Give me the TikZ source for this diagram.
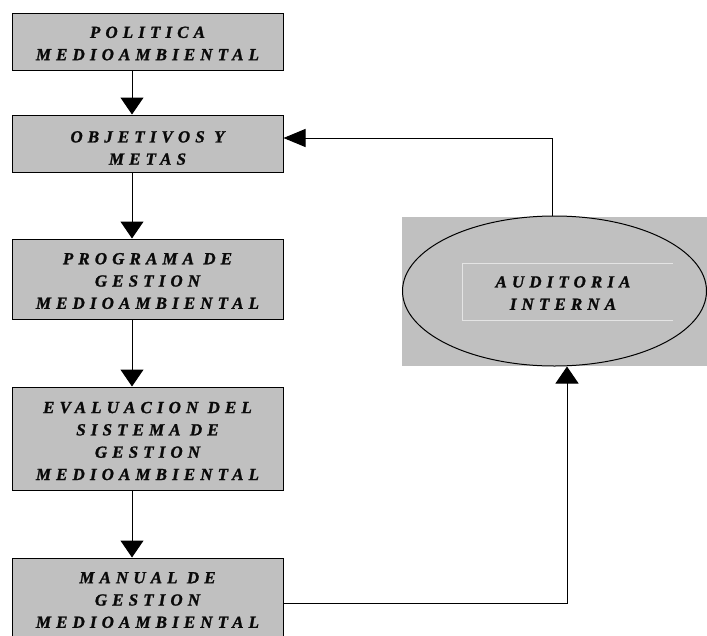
\documentclass[tikz,border=0pt]{standalone}
\usepackage{fontspec}
\setmainfont{Liberation Serif}
\newfontfamily\boxfont[LetterSpace=30,BoldItalicFont={* Bold Italic},FakeBold=1.2]{Liberation Serif}
\usetikzlibrary{arrows.meta,shapes.geometric}
\definecolor{boxgray}{RGB}{192,192,192}
\definecolor{innerline}{RGB}{228,228,228}
\definecolor{txt}{RGB}{10,10,10}
\begin{document}
\begin{tikzpicture}[x=1pt,y=-1pt,
  box/.style={draw=black,line width=1pt,fill=boxgray,minimum width=271pt,inner sep=0pt},
  lbl/.style={font=\boxfont\bfseries\itshape\fontsize{17}{22.3}\selectfont,align=center,inner sep=0pt,text=txt},
  arr/.style={line width=1pt,-{Triangle[length=17pt,width=23pt]}},
  arrL/.style={line width=1pt,-{Triangle[length=22pt,width=18pt]}}]
\useasboundingbox (0,0) rectangle (707,635);
% boxes
\node[box,minimum height=57pt] (b1) at (147.5,41.5) {};
\node[box,minimum height=57pt] (b2) at (147.5,143.5) {};
\node[box,minimum height=80pt] (b3) at (147.5,279) {};
\node[box,minimum height=103pt] (b4) at (147.5,438.5) {};
\node[box,minimum height=82pt] (b5) at (147.5,599) {};
% texts
\node[lbl] (t1) at (147.5,43.5) {POLITICA\\MEDIOAMBIENTAL};
\node[lbl] (t2) at (147.5,148) {OBJETIVOS Y\\METAS};
\node[lbl] (t3) at (147.5,281) {PROGRAMA DE\\GESTION\\MEDIOAMBIENTAL};
\node[lbl] (t4) at (147.5,441) {EVALUACION DEL\\SISTEMA DE\\GESTION\\MEDIOAMBIENTAL};
\node[lbl] (t5) at (147.5,600) {MANUAL DE\\GESTION\\MEDIOAMBIENTAL};
% audit
\node[fill=boxgray,minimum width=305pt,minimum height=149pt,inner sep=0pt] (bg) at (554.5,291.5) {};
\node[ellipse,draw=black,line width=1pt,fill=boxgray,minimum width=304pt,minimum height=150pt,inner sep=0pt] (ell) at (554.5,291) {};
\draw[innerline,line width=0.8pt] (673,263) -- (462,263) -- (462,320) -- (673,320);
\node[lbl] (t6) at (563,293) {AUDITORIA\\INTERNA};
% connectors
\coordinate (ax) at (132,0);
\coordinate (fx) at (552,0);
\coordinate (ry) at (0,138);
\coordinate (bx) at (567,0);
\coordinate (by) at (0,603);
\draw[arr] (b1.south -| ax) -- (b2.north -| ax);
\draw[arr] (b2.south -| ax) -- (b3.north -| ax);
\draw[arr] (b3.south -| ax) -- (b4.north -| ax);
\draw[arr] (b4.south -| ax) -- (b5.north -| ax);
\draw[arrL] (ell.north -| fx) |- (b2.east |- ry);
\draw[arr] (b5.east |- by) -| (ell.south -| bx);
\end{tikzpicture}
\end{document}
